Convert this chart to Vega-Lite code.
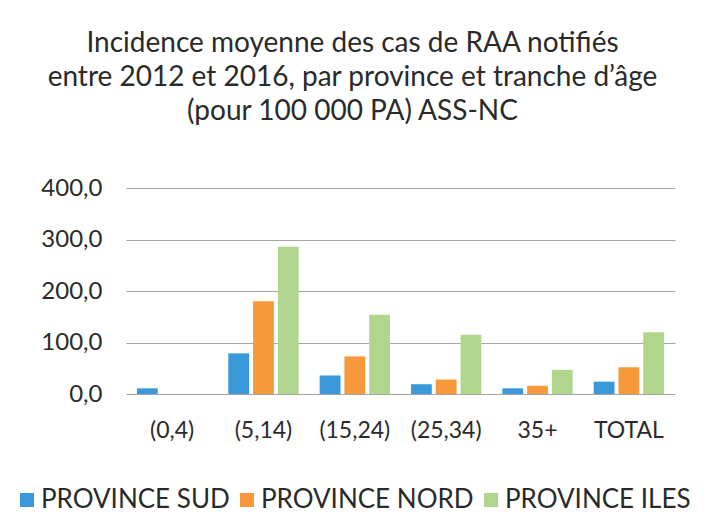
{
  "$schema": "https://vega.github.io/schema/vega-lite/v6.json",
  "width": 549,
  "height": 206,
  "autosize": {"type": "none"},
  "padding": {"left": 126, "top": 188, "right": 29, "bottom": 132},
  "background": "#ffffff",
  "title": {
    "text": ["Incidence moyenne des cas de RAA notifiés", "entre 2012 et 2016, par province et tranche d’âge", "(pour 100 000 PA) ASS-NC"],
    "font": "Lato",
    "fontSize": 28,
    "fontWeight": "normal",
    "color": "#2a2a2a",
    "lineHeight": 34,
    "offset": 50,
    "dx": -48,
    "anchor": "middle"
  },
  "data": {
    "values": [
      {"age": "(0,4)", "province": "PROVINCE SUD", "value": 11},
      {"age": "(5,14)", "province": "PROVINCE SUD", "value": 79},
      {"age": "(5,14)", "province": "PROVINCE NORD", "value": 180},
      {"age": "(5,14)", "province": "PROVINCE ILES", "value": 286},
      {"age": "(15,24)", "province": "PROVINCE SUD", "value": 36},
      {"age": "(15,24)", "province": "PROVINCE NORD", "value": 73},
      {"age": "(15,24)", "province": "PROVINCE ILES", "value": 154},
      {"age": "(25,34)", "province": "PROVINCE SUD", "value": 19},
      {"age": "(25,34)", "province": "PROVINCE NORD", "value": 28},
      {"age": "(25,34)", "province": "PROVINCE ILES", "value": 115},
      {"age": "35+", "province": "PROVINCE SUD", "value": 11},
      {"age": "35+", "province": "PROVINCE NORD", "value": 16},
      {"age": "35+", "province": "PROVINCE ILES", "value": 47},
      {"age": "TOTAL", "province": "PROVINCE SUD", "value": 24},
      {"age": "TOTAL", "province": "PROVINCE NORD", "value": 52},
      {"age": "TOTAL", "province": "PROVINCE ILES", "value": 120}
    ]
  },
  "mark": {"type": "bar"},
  "encoding": {
    "x": {
      "field": "age",
      "type": "nominal",
      "sort": ["(0,4)", "(5,14)", "(15,24)", "(25,34)", "35+", "TOTAL"],
      "scale": {"paddingInner": 0.23, "paddingOuter": 0.12},
      "axis": {
        "title": null,
        "labelAngle": 0,
        "labelFont": "Lato",
        "labelFontSize": 23,
        "labelColor": "#2a2a2a",
        "labelPadding": 25,
        "ticks": false,
        "domain": false
      }
    },
    "xOffset": {
      "field": "province",
      "type": "nominal",
      "sort": ["PROVINCE SUD", "PROVINCE NORD", "PROVINCE ILES"],
      "scale": {"paddingInner": 0.16}
    },
    "y": {
      "field": "value",
      "type": "quantitative",
      "scale": {"domain": [0, 400], "nice": false},
      "axis": {
        "title": null,
        "values": [0, 100, 200, 300, 400],
        "labelExpr": "replace(format(datum.value, '.1f'), '.', ',')",
        "labelFont": "Lato",
        "labelFontSize": 24,
        "labelColor": "#2a2a2a",
        "labelPadding": 24,
        "ticks": false,
        "domain": false,
        "grid": true,
        "gridColor": "#a6a6a6",
        "gridWidth": 1.2
      }
    },
    "color": {
      "field": "province",
      "type": "nominal",
      "sort": ["PROVINCE SUD", "PROVINCE NORD", "PROVINCE ILES"],
      "scale": {"domain": ["PROVINCE SUD", "PROVINCE NORD", "PROVINCE ILES"], "range": ["#3a9ad9", "#f7983a", "#b0d68e"]},
      "legend": {
        "title": null,
        "orient": "none",
        "direction": "horizontal",
        "legendX": -112,
        "legendY": 299,
        "padding": 0,
        "symbolType": "square",
        "symbolSize": 196,
        "symbolStrokeWidth": 0,
        "labelFont": "Lato",
        "labelFontSize": 26,
        "labelColor": "#2a2a2a",
        "labelOffset": 1,
        "columnPadding": 4,
        "labelLimit": 300
      }
    }
  },
  "config": {
    "view": {"stroke": null}
  }
}
